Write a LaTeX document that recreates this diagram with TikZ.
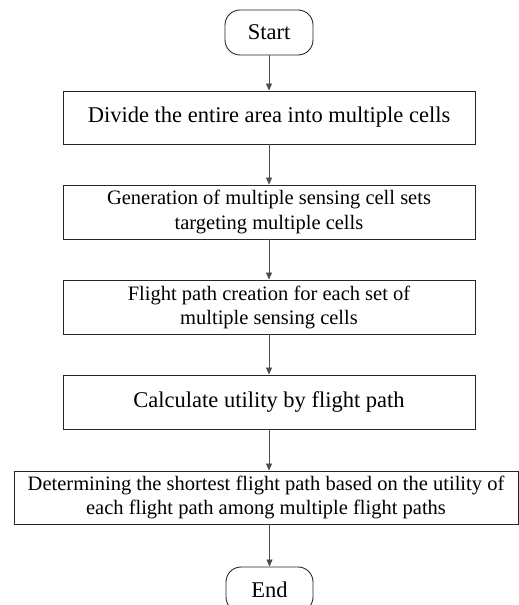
\documentclass[tikz,border=0pt]{standalone}
\usepackage{fontspec}
\setmainfont{Liberation Serif}
\usetikzlibrary{arrows.meta}
\usetikzlibrary{calc}

\tikzset{
  stepbox/.style={draw=black!85, line width=0.9pt, inner sep=0pt, align=center},
  termbox/.style={draw=black!85, line width=0.9pt, inner sep=0pt, rounded corners=15pt},
  bigtext/.style={font=\fontsize{22.5}{26}\selectfont},
  smalltext/.style={font=\fontsize{20.5}{24}\selectfont},
  flow/.style={draw=black!70, line width=0.9pt, -{Triangle[length=7pt,width=6pt]}}
}

\begin{document}
\begin{tikzpicture}[x=1pt,y=1pt]
          \useasboundingbox (0,0) rectangle (519,605); % Fixes the page

          \node [termbox, bigtext, minimum width=88pt, minimum height=45pt] (start) at (269,572.5) {Start}; % Start terminal

          \node [stepbox, bigtext, minimum width=412pt, minimum height=53pt] (divide) at (269,487.5) {Divide the entire area into multiple cells}; % Draws a box
          \node [stepbox, smalltext, minimum width=412pt, minimum height=54pt] (sets) at (269,393) {Generation of multiple sensing cell sets\\ targeting multiple cells}; % Draws a box
          \node [stepbox, smalltext, minimum width=412pt, minimum height=54pt] (paths) at (269,298) {Flight path creation for each set of\\ multiple sensing cells}; % Draws a box
          \node [stepbox, bigtext, minimum width=412pt, minimum height=54pt] (utility) at (269,203) {Calculate utility by flight path}; % Draws a box
          \node [stepbox, smalltext, minimum width=504pt, minimum height=53pt] (shortest) at (266,107.5) {Determining the shortest flight path based on the utility of\\ each flight path among multiple flight paths}; % Draws a box

          \node [termbox, bigtext, minimum width=87pt, minimum height=45pt] (stop) at (269.5,15.5) {End}; % End terminal

          \draw [flow] (start) -- (divide);
          \draw [flow] (divide) -- (sets);
          \draw [flow] (sets) -- (paths);
          \draw [flow] (paths) -- (utility);
          \draw [flow] (utility) -- (utility |- shortest.north);
          \draw [flow] (shortest.south -| stop) -- (stop);
        \end{tikzpicture}
\end{document}
